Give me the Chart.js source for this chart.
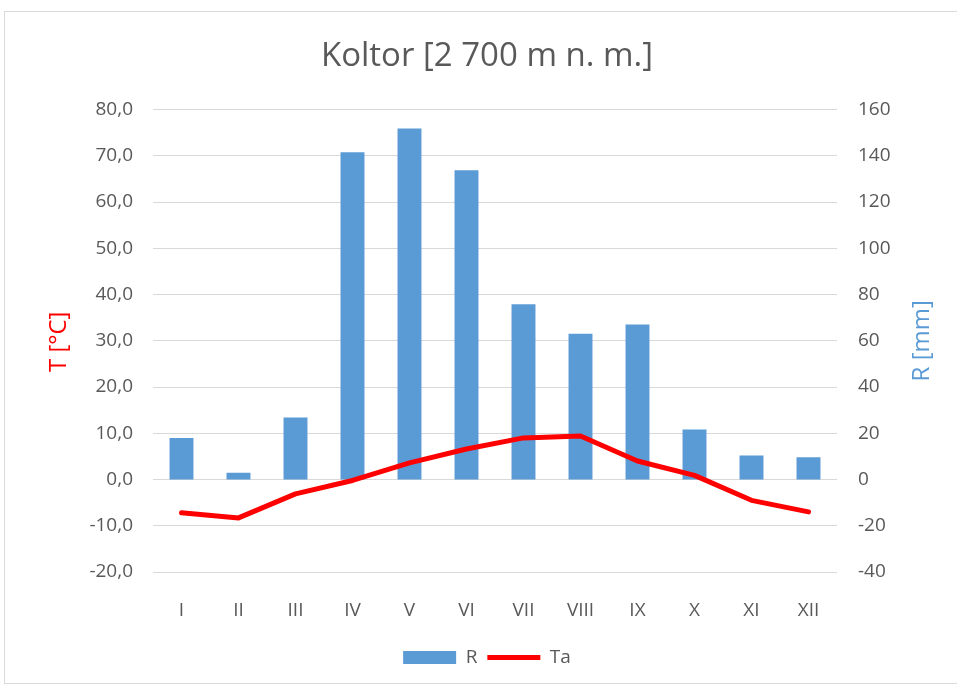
<!DOCTYPE html>
<html>
<head>
<meta charset="utf-8">
<script src="https://cdn.jsdelivr.net/npm/chart.js@4/dist/chart.umd.min.js"></script>
<style>
  html, body { margin: 0; padding: 0; background: #fff; }
  #wrap { width: 957px; height: 689px; position: relative; }
</style>
</head>
<body>
<div id="wrap"><canvas id="koltor-chart"></canvas></div>
<script>
// mesiace
var months = ["I", "II", "III", "IV", "V", "VI", "VII", "VIII", "IX", "X", "XI", "XII"];
// zrážky R [mm]
var rain = [18.0, 2.9, 26.8, 141.6, 151.8, 133.8, 75.8, 63.0, 67.0, 21.6, 10.4, 9.6];
// teplota vzduchu Ta [°C]
var temp = [-7.2, -8.3, -3.1, -0.2, 3.6, 6.6, 9.0, 9.4, 4.0, 0.9, -4.5, -7.0];

var textGray = "#595959";
var blue = "#5B9BD5";
var red = "#FF0000";
var fontFamily = "'Open Sans', sans-serif";

// rámik okolo celého grafu
var frame = {
  id: "frame",
  beforeDraw: function (chart) {
    var c = chart.ctx;
    c.save();
    c.fillStyle = "#fff";
    c.fillRect(0, 0, chart.width, chart.height);
    c.strokeStyle = "#d9d9d9";
    c.lineWidth = 1;
    c.strokeRect(4.5, 11.5, 980, 672);
    c.restore();
  },
};

// popisy osí, oba otočené zdola nahor
function drawAxisTitle(c, text, color, x, y) {
  c.save();
  c.font = "24px " + fontFamily;
  c.textAlign = "center";
  c.textBaseline = "middle";
  c.fillStyle = color;
  c.translate(x, y);
  c.rotate(-Math.PI / 2);
  c.fillText(text, 0, 0);
  c.restore();
}

var axisTitles = {
  id: "axisTitles",
  afterDraw: function (chart) {
    var area = chart.chartArea;
    var midY = (area.top + area.bottom) / 2;
    drawAxisTitle(chart.ctx, "T [°C]", red, 59, midY + 1);
    drawAxisTitle(chart.ctx, "R [mm]", blue, 922, midY);
  },
};

var ctx = document.getElementById("koltor-chart").getContext("2d");
var myChart = new Chart(ctx, {
  type: "bar",
  data: {
    labels: months,
    datasets: [
      {
        type: "bar",
        label: "R",
        data: rain,
        yAxisID: "yR",
        backgroundColor: blue,
        borderWidth: 0,
        categoryPercentage: 1,
        barPercentage: 0.42,
        pointStyle: "rect",
        order: 2,
      },
      {
        type: "line",
        label: "Ta",
        data: temp,
        yAxisID: "yT",
        borderColor: red,
        backgroundColor: red,
        borderWidth: 5,
        borderCapStyle: "round",
        borderJoinStyle: "round",
        pointRadius: 0,
        pointStyle: "line",
        tension: 0,
        order: 1,
      },
    ],
  },
  options: {
    responsive: true,
    maintainAspectRatio: false,
    animation: false,
    layout: { padding: { left: 17, right: 0, top: 0, bottom: 12 } },
    plugins: {
      title: {
        display: true,
        text: "Koltor [2 700 m n. m.]",
        color: textGray,
        font: { family: fontFamily, size: 33, weight: "normal" },
        padding: { top: 37, bottom: 33 },
      },
      legend: {
        position: "bottom",
        labels: {
          usePointStyle: true,
          pointStyleWidth: 53,
          boxHeight: 13,
          color: textGray,
          font: { family: fontFamily, size: 19 },
          padding: 10,
          sort: function (a, b) { return a.datasetIndex - b.datasetIndex; },
        },
      },
      tooltip: { enabled: false },
    },
    scales: {
      x: {
        grid: { display: false },
        border: { display: false },
        ticks: { color: textGray, font: { family: fontFamily, size: 19 }, padding: 19 },
        afterFit: function (scale) { scale.height = 66; },
      },
      yT: {
        position: "left",
        min: -20,
        max: 80,
        ticks: {
          stepSize: 10,
          color: textGray,
          font: { family: fontFamily, size: 19 },
          padding: 20,
          callback: function (v) { return v.toFixed(1).replace(".", ","); },
        },
        grid: { color: "#d9d9d9", drawTicks: false },
        border: { display: false },
        afterFit: function (scale) { scale.width = 136; },
      },
      yR: {
        position: "right",
        min: -40,
        max: 160,
        ticks: {
          stepSize: 20,
          color: textGray,
          font: { family: fontFamily, size: 19 },
          padding: 21,
        },
        grid: { display: false, drawTicks: false },
        border: { display: false },
        afterFit: function (scale) { scale.width = 120; },
      },
    },
  },
  plugins: [frame, axisTitles],
});
</script>
</body>
</html>
